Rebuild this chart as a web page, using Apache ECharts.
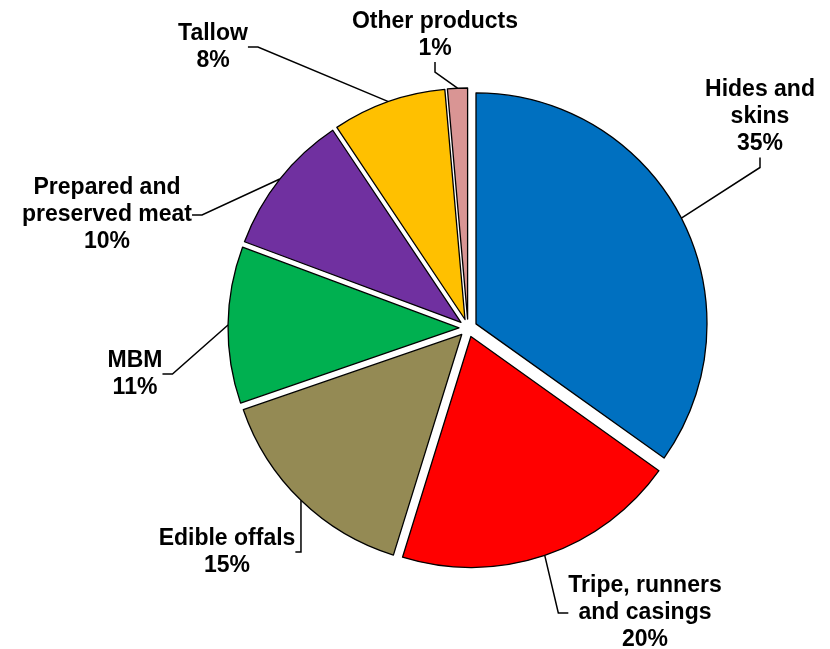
<!DOCTYPE html>
<html>
<head>
<meta charset="utf-8">
<script src="https://cdn.jsdelivr.net/npm/echarts@6/dist/echarts.min.js"></script>
<style>
  html, body { margin: 0; padding: 0; background: #fff; }
  #chart { width: 830px; height: 649px; }
</style>
</head>
<body>
<div id="chart"></div>
<script>
  // 数据
  var names = ['Hides and\nskins', 'Tripe, runners\nand casings', 'Edible offals', 'MBM',
    'Prepared and\npreserved meat', 'Tallow', 'Other products']
  var values = [35, 20, 15, 11, 10, 8, 1.4]
  var colors = ['#0070c0', '#ff0000', '#948a54', '#00b050', '#7030a0', '#ffc000', '#d99594']
  // label block centres (px)
  var labelPos = [[760, 117], [645, 613], [227, 552], [135, 374], [107, 215], [213, 47], [435, 35]]

  var chart = echarts.init(document.getElementById('chart'))

  var center = [468, 328]
  var R = 231
  var explode = 9

  var total = 0
  for (var k = 0; k < values.length; k++) total += values[k]

  // one pie series per slice, each pulled out along its own mid angle
  function slice (i) {
    var cum = 0
    for (var k = 0; k < i; k++) cum += values[k]
    var mid = 2 * Math.PI * (cum + values[i] / 2) / total
    var c = [center[0] + explode * Math.sin(mid), center[1] - explode * Math.cos(mid)]
    var d = []
    for (var j = 0; j < names.length; j++) {
      if (j === i) {
        d.push({
          name: names[j],
          value: values[j],
          itemStyle: {color: colors[j], borderColor: '#000', borderWidth: 1.3},
        })
      } else {
        d.push({
          name: names[j],
          value: values[j],
          itemStyle: {color: 'transparent', borderWidth: 0},
          label: {show: false},
          labelLine: {show: false},
        })
      }
    }
    return {
      type: 'pie',
      center: c,
      radius: R,
      startAngle: 90,
      silent: true,
      avoidLabelOverlap: false,
      emphasis: {disabled: true},
      label: {
        show: true,
        color: '#000',
        fontFamily: 'Liberation Sans',
        fontWeight: 'bold',
        fontSize: 23,
        lineHeight: 27,
        align: 'center',
        formatter: function (p) { return p.name + '\n' + Math.round(p.value) + '%' },
      },
      labelLine: {
        show: true,
        length: 8,
        length2: 10,
        lineStyle: {color: '#000', width: 1.5},
      },
      labelLayout: function (p) {
        var pos = labelPos[p.dataIndex]
        return {x: pos[0], y: pos[1], align: 'center', verticalAlign: 'middle'}
      },
      data: d,
    }
  }

  var series = []
  for (var i = 0; i < names.length; i++) series.push(slice(i))

  chart.setOption({
    animation: false,
    series: series,
  })
</script>
</body>
</html>
